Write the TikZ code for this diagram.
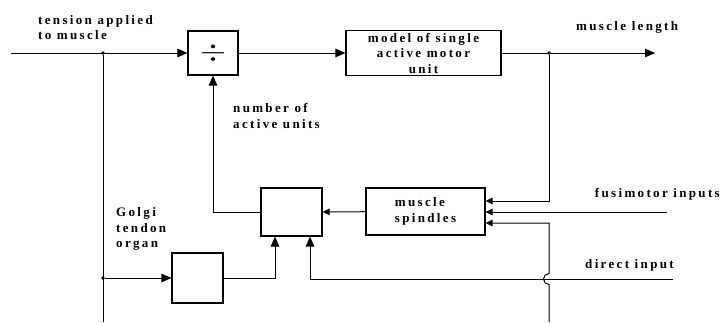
\documentclass[tikz,border=0pt]{standalone}
\usepackage{fontspec}
\newfontfamily\lblfont{Liberation Serif Bold}[LetterSpace=18]
\usetikzlibrary{arrows.meta,positioning}

\begin{document}
\begin{tikzpicture}[x=1pt,y=-1pt,
  font=\lblfont\fontsize{13pt}{15.5pt}\selectfont,
  blk/.style={draw,line width=1.1pt,inner sep=0pt,align=center},
  lab/.style={inner sep=0pt,anchor=west,align=left},
  arr/.style={-{Triangle[length=10pt,width=8.5pt]},line width=1pt},
  sarr/.style={-{Triangle[length=7pt,width=6.5pt]},line width=1pt},
  wire/.style={line width=1pt},
  dot/.style={circle,fill,inner sep=0pt,minimum size=3.6pt}]
\useasboundingbox (0,0) rectangle (722,322);
% boxes
\node[blk,minimum width=50pt,minimum height=44pt] (div) at (213,53) {\resizebox{26pt}{17pt}{$\div$}};
\node[blk,minimum width=155pt,minimum height=45pt] (model) at (423.5,53) {model of single\\active motor\\unit};
\node[blk,minimum width=119pt,minimum height=47pt,align=left] (spin) at (425.5,211.5) {muscle\\spindles};
\node[blk,minimum width=61pt,minimum height=48pt] (comp) at (291.5,212) {};
\node[blk,minimum width=51pt,minimum height=50pt] (golgi) at (197.5,278) {};
% labels
\node[lab] (lten) at (38,27.5) {tension applied\\to muscle};
\node[lab] (llen) at (576,27) {muscle length};
\node[lab] (lnum) at (233,116) {number of\\active units};
\node[lab] (lgol) at (116,229) {Golgi\\tendon\\organ};
\node[lab,anchor=east] (lfus) at (720,194) {fusimotor inputs};
\node[lab] (ldir) at (585,265) {direct input};
% junctions and free ends
\node[dot] (j1) at (103,53) {};
\node[dot] (j2) at (549,53) {};
\node[dot] (j3) at (103,278) {};
\coordinate (tin) at (11,53);
\coordinate (tbot) at (103,322);
\coordinate (lout) at (655,53);
\coordinate (fin) at (667,212);
\coordinate (din) at (673,279);
\coordinate (sbot) at (549,322);
\coordinate (hopb) at (549,284.5);
\coordinate (sknee) at (549,223);
% main line
\draw[arr] (tin) -- (div);
\draw[arr] (div) -- (model);
\draw[arr] (model) -- (lout);
\draw[wire] (j1) -- (tbot);
% feedback
\draw[sarr] (j2) |- ([yshift=10.5pt]spin.east);
\draw[sarr] (fin) -- (fin -| spin.east);
\draw[sarr] (sbot) -- (hopb) arc[start angle=-90,end angle=-270,radius=5.5pt] -- (sknee) -- (sknee -| spin.east);
\draw[sarr] (spin) -- (comp);
\draw[arr] (comp.west) -| (div.south);
\draw[arr] (j3) -- (golgi);
\draw[arr] (golgi.east) -| ([xshift=-16.5pt]comp.south);
\draw[arr] (din) -| ([xshift=18.5pt]comp.south);
\end{tikzpicture}
\end{document}
